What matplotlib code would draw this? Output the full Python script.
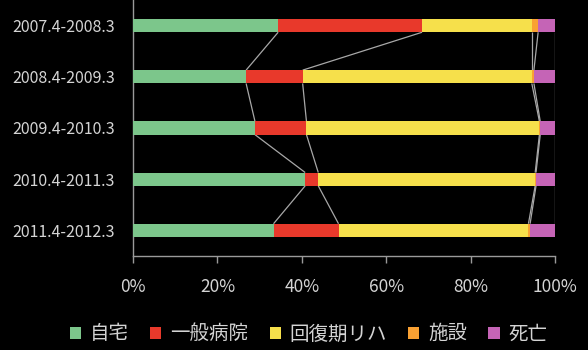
import numpy as np
import matplotlib
matplotlib.use("Agg")
import matplotlib.pyplot as plt
from matplotlib.patches import Patch

plt.rcParams['font.family'] = ['Noto Sans CJK JP', 'DejaVu Sans']

periods = ["2007.4-2008.3", "2008.4-2009.3", "2009.4-2010.3", "2010.4-2011.3", "2011.4-2012.3"]
series_names = ["自宅", "一般病院", "回復期リハ", "施設", "死亡"]
home = [34.4, 26.8, 28.9, 40.8, 33.3]
general_hospital = [34.1, 13.4, 12.2, 3.1, 15.4]
rehab = [26.0, 54.3, 55.2, 51.4, 45.0]
facility = [1.5, 0.5, 0.2, 0.2, 0.4]
death = [4.0, 5.0, 3.5, 4.5, 5.9]
xtick_labels = ["0%", "20%", "40%", "60%", "80%", "100%"]

colors = ["#7cc68b", "#e8392b", "#f6e04b", "#f9a133", "#c564b6"]
text_color = "#d4d4d4"
axis_color = "#9a9a9a"

values = np.array([home, general_hospital, rehab, facility, death])
y = np.arange(len(periods))
bar_h = 0.26

fig = plt.figure(figsize=(5.88, 3.5), dpi=100, facecolor="black")
ax = fig.add_axes([0.2262, 0.2686, 0.7177, 0.7314], facecolor="black")

left = np.zeros(len(periods))
for name, vals, c in zip(series_names, values, colors):
    ax.barh(y, vals, left=left, height=bar_h, color=c, label=name, zorder=3)
    left = left + vals

# series lines joining segment boundaries of neighbouring bars
cum = np.cumsum(values, axis=0)
for k in range(cum.shape[0]):
    for i in range(len(periods) - 1):
        ax.plot([cum[k, i], cum[k, i + 1]], [y[i] + bar_h / 2, y[i + 1] - bar_h / 2],
                color="#a8a8a8", lw=0.9, zorder=2, solid_capstyle="butt")

ax.set_xlim(0, 100)
ax.set_ylim(len(periods) - 0.5, -0.5)
ax.set_xticks(np.arange(0, 101, 20))
ax.set_xticklabels(xtick_labels)
ax.set_yticks(y)
ax.set_yticklabels(periods)

for s in ["top", "right"]:
    ax.spines[s].set_visible(False)
for s in ["left", "bottom"]:
    ax.spines[s].set_color(axis_color)
    ax.spines[s].set_linewidth(1.0)

ax.tick_params(axis="x", colors=axis_color, length=5, width=1.0, pad=11,
               labelcolor=text_color, labelsize=12.5)
ax.tick_params(axis="y", length=0, pad=13, labelcolor=text_color, labelsize=11.5)

handles = [Patch(facecolor=c, edgecolor="none") for c in colors]
leg = fig.legend(handles, series_names, loc="center", bbox_to_anchor=(0.525, 0.046),
                 ncol=5, frameon=False, fontsize=14, handlelength=0.57, handleheight=0.57,
                 handletextpad=0.45, columnspacing=1.1, borderaxespad=0, borderpad=0)
for t in leg.get_texts():
    t.set_color(text_color)

fig.savefig("out.png", dpi=100, facecolor="black")
